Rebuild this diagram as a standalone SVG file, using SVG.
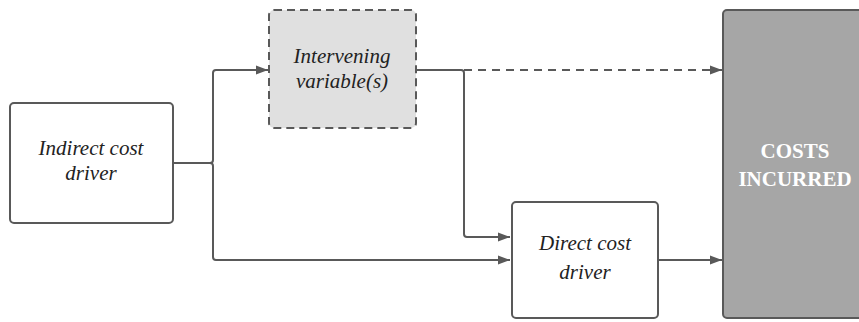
<svg xmlns="http://www.w3.org/2000/svg" width="859" height="322" viewBox="0 0 859 322">
<defs>
<marker id="arr" viewBox="0 0 12 10" refX="12" refY="5" markerWidth="12" markerHeight="10" markerUnits="userSpaceOnUse" orient="auto">
<path d="M0,0.5 L12,5 L0,9.5 Z" fill="#595959"/>
</marker>
<style>
.box{fill:#ffffff;stroke:#595959;stroke-width:2}
.lbl{font-family:"Liberation Serif","Times New Roman",serif;font-style:italic;font-size:21px;fill:#222;text-anchor:middle}
.cc{font-family:"Liberation Serif","Times New Roman",serif;font-weight:bold;font-size:21px;fill:#ffffff;text-anchor:middle}
.ln{fill:none;stroke:#595959;stroke-width:2}
</style>
</defs>
<rect width="859" height="322" fill="#ffffff"/>
<g id="connectors">
<path class="ln" d="M173,163 H210 Q213,163 213,160 V73 Q213,70 216,70 H268" marker-end="url(#arr)"/>
<path class="ln" d="M210,163 Q213,163 213,166 V257 Q213,260 216,260 H510" marker-end="url(#arr)"/>
<path class="ln" d="M416,70 H461 Q464,70 464,73 V234 Q464,237 467,237 H510" marker-end="url(#arr)"/>
<path class="ln" d="M464,70 H722" stroke-dasharray="8,6" marker-end="url(#arr)"/>
<path class="ln" d="M658,260 H722" marker-end="url(#arr)"/>
</g>
<g id="indirect">
<rect class="box" x="10" y="103" width="163" height="120" rx="4"/>
<text class="lbl" x="91" y="155">Indirect cost</text>
<text class="lbl" x="91" y="180">driver</text>
</g>
<g id="intervening">
<rect x="269" y="10" width="147" height="118" rx="5" fill="#e0e0e0" stroke="#595959" stroke-width="2" stroke-dasharray="8,5"/>
<text class="lbl" x="342" y="63">Intervening</text>
<text class="lbl" x="342" y="88">variable(s)</text>
</g>
<g id="direct">
<rect class="box" x="512" y="202" width="146" height="116" rx="4"/>
<text class="lbl" x="585" y="250">Direct cost</text>
<text class="lbl" x="585" y="279">driver</text>
</g>
<g id="costs">
<rect x="723" y="10" width="150" height="308" rx="4" fill="#a6a6a6" stroke="#595959" stroke-width="2"/>
<text class="cc" x="795" y="158">COSTS</text>
<text class="cc" x="795" y="186">INCURRED</text>
</g>
</svg>
